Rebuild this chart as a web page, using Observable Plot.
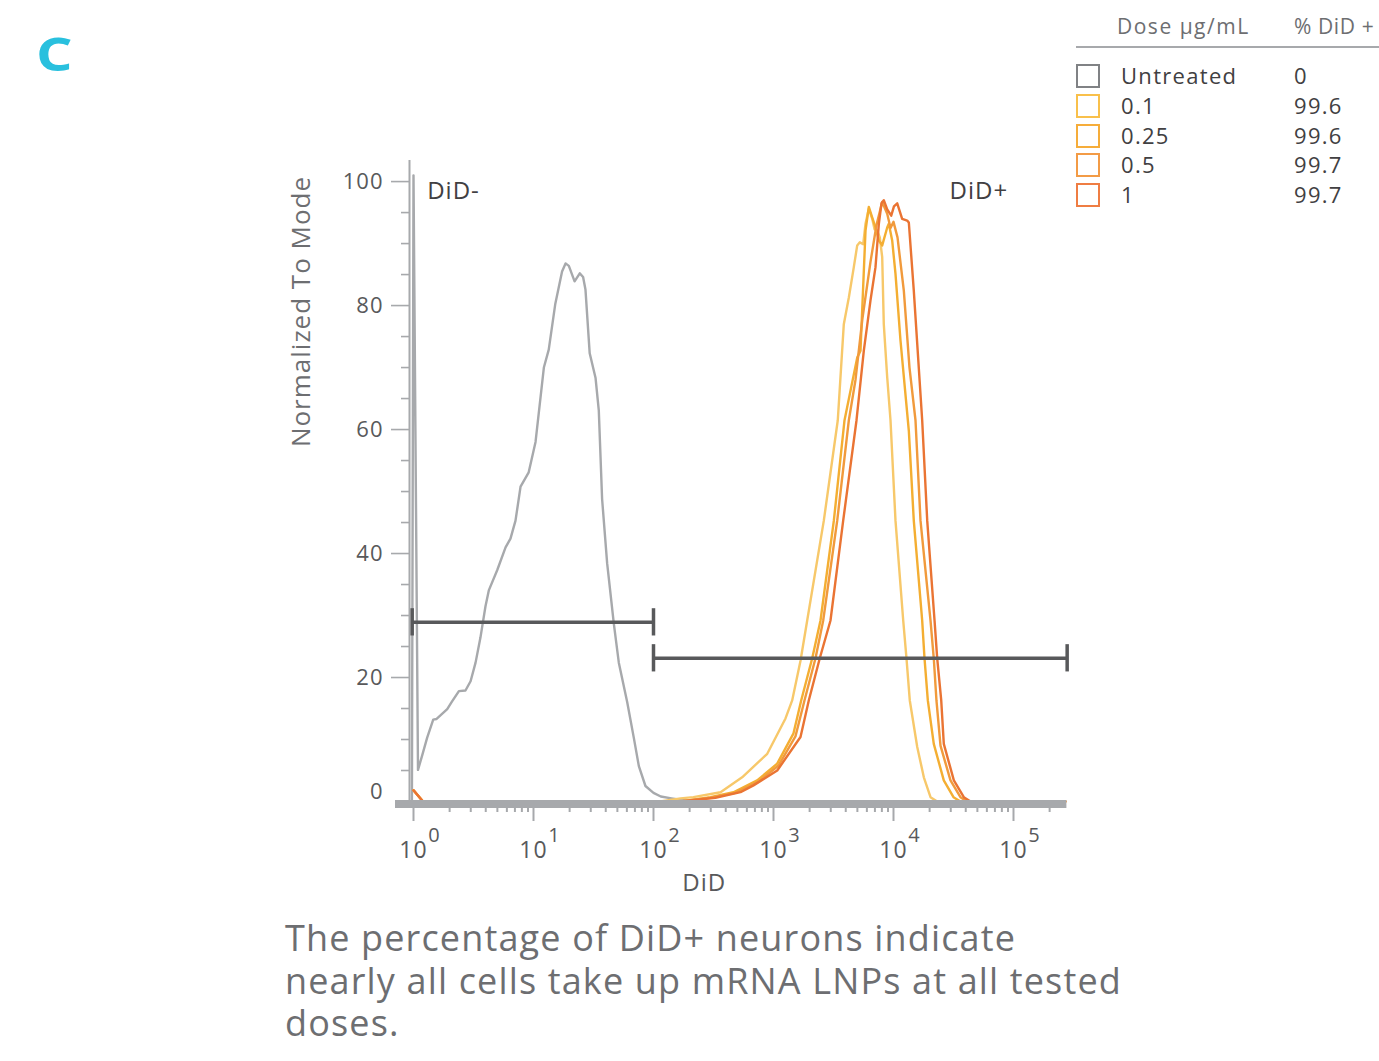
<!DOCTYPE html>
<html><head><meta charset="utf-8">
<script src="https://cdn.jsdelivr.net/npm/d3@7"></script>
<script src="https://cdn.jsdelivr.net/npm/@observablehq/plot@0.6"></script>
<style>
body{margin:0;background:#fff;font-family:"Open Sans",sans-serif;}
#page{position:relative;width:1379px;height:1061px;overflow:hidden;}
#panel{position:absolute;left:36px;top:30px;font-size:46px;font-weight:700;color:#29c0de;line-height:46px;transform:scaleX(1.25);transform-origin:left top;}
#chart{position:absolute;left:0;top:0;}
#legend{position:absolute;left:0;top:0;width:1379px;height:220px;}
#legend div{position:absolute;white-space:nowrap;}
.lh{font-size:21px;color:#6d6e71;letter-spacing:1.5px;}
.lt{font-size:22px;color:#414042;letter-spacing:1.3px;}
.box{width:20px;height:20px;border:2.5px solid #888;}
#caption{position:absolute;left:285px;top:917px;font-size:36px;line-height:42.5px;color:#6d6e71;letter-spacing:1.15px;}
</style></head>
<body>
<div id="page">
  <div id="panel">C</div>
  <div id="chart"></div>
  <div id="legend"></div>
  <div id="caption">The percentage of DiD+ neurons indicate<br>nearly all cells take up mRNA LNPs at all tested<br>doses.</div>
</div>
<script>
// ---- data ----
const doseLabels = ["Untreated", "0.1", "0.25", "0.5", "1"];
const pctDiDPositive = ["0", "99.6", "99.6", "99.7", "99.7"];
const seriesColors = ["#a7a9ac", "#f7c86a", "#f4ae32", "#f19a3c", "#ea7433"];
const legendBoxColors = ["#808285", "#f9c04b", "#f6ad3a", "#f39b46", "#ef7d43"];

// [DiD intensity, % of mode]
const untreated = [[0.97,0],[1.0,101],[1.09,5.1],[1.18,7.4],[1.30,10.3],[1.46,13.2],[1.55,13.3],[1.91,14.9],[2.09,16.1],[2.39,17.8],[2.71,17.9],[2.99,19.4],[3.29,22.4],[3.61,26.4],[3.98,31.5],[4.25,34.1],[4.98,37.3],[5.85,41.0],[6.43,42.4],[7.08,45.3],[7.80,50.8],[9.12,53.1],[10.4,58.0],[12.2,70.0],[13.4,72.9],[15.2,80.3],[17.3,85.5],[18.5,86.8],[19.7,86.4],[22.0,83.9],[24.3,85.2],[25.9,84.6],[27.1,82.6],[29.4,72.3],[32.9,68.3],[35.0,63.1],[37.3,48.8],[41.1,38.4],[46.7,28.7],[51.4,22.4],[60.4,16.0],[68.5,10.3],[75.5,5.7],[85.7,2.5],[100,1.4],[115,0.8],[141,0.5],[178,0.2],[200,0]];
const dose01 = [[1,1.8],[1.2,0],[114,0],[168,0.5],[215,0.7],[362,1.5],[548,3.9],[887,7.7],[1259,13.4],[1431,16.3],[1679,22.7],[1909,29.2],[2626,45.3],[3433,61.5],[3854,77],[4244,81.3],[4670,86.2],[4984,89.7],[5240,90.2],[5593,89.9],[5845,93.2],[6227,95.6],[6650,94],[6950,92.3],[7318,92.1],[7688,91],[8052,87.8],[8300,77],[8865,68.4],[9441,61.5],[10390,45.3],[12050,29.2],[12830,23.1],[13670,16.3],[15770,8.8],[17900,3.9],[20340,0.7],[23130,0],[270000,0]];
const dose025 = [[1,1.8],[1.2,0],[168,0],[299,0.7],[464,1.5],[731,3.4],[1074,6.1],[1468,11],[1701,16.3],[2102,23.1],[2464,29.2],[3183,45.3],[3907,61.5],[4984,71.6],[5309,72.7],[5845,92.1],[6227,95.9],[6650,94.2],[7079,92.6],[7549,90.5],[8052,89.7],[8865,92.6],[9141,93.2],[9750,90.5],[10390,85.1],[11430,74.4],[13420,59.8],[14760,45.3],[17340,29.2],[18130,23.1],[19320,16.3],[21660,9.3],[26250,3.4],[31620,0.7],[36140,0],[270000,0]];
const dose05 = [[1,1.8],[1.2,0],[168,0],[299,0.6],[482,1.4],[750,3.2],[1101,5.8],[1524,10.5],[1812,16.3],[2239,23.1],[2595,29.2],[3396,45.3],[4244,61.5],[4822,68],[5517,78],[6427,87],[7215,93],[8052,96.7],[8865,94.8],[9441,92.5],[10000,93.5],[10800,91],[12190,82.4],[13590,70],[15250,61.5],[16790,45.3],[20340,29.2],[21660,23.1],[22800,16.3],[24640,9],[29850,3.4],[36140,0.7],[41110,0],[270000,0]];
const dose1 = [[1,1.8],[1.2,0],[168,0],[328,0.6],[531,1.5],[681,2.6],[1074,5],[1679,10.4],[1968,16.3],[2430,23.1],[2985,29.2],[3808,45.3],[4918,61.5],[5656,72.7],[6427,80.8],[7079,86.2],[7549,93.2],[7943,96.5],[8300,97],[8865,95.5],[9572,94.5],[10090,96],[10740,96.5],[11810,94],[13010,93.7],[13420,93.4],[14760,82.4],[17340,61.5],[19100,45.3],[21980,29.2],[23130,23.1],[24990,16.3],[26250,9.3],[31840,3.4],[38550,0.7],[43850,0],[270000,0]];
const histograms = [untreated, dose01, dose025, dose05, dose1];

// gates
const gates = [
  {name: "DiD-", x1: 0.975, x2: 100, y: 28.9},
  {name: "DiD+", x1: 100, x2: 280000, y: 23.1}
];

// axes
const xMajor = [1, 10, 100, 1000, 10000, 100000];
const xMinor = [];
for (const p of [1, 10, 100, 1000, 10000, 100000]) for (let m = 2; m <= 9; m++) if (m * p <= 270000) xMinor.push(m * p);
const yMajor = [20, 40, 60, 80, 100];
const yMinor = d3.range(5, 100, 5).filter(v => v % 20 !== 0);
const yLabel = "Normalized To Mode";
const xLabel = "DiD";

// ---- chart ----
const W = 1379, H = 900;
const xmin = Math.pow(10, -0.15), xmax = Math.pow(10, 5.445);
const axisGray = "#a7a9ac", textGray = "#58595b", gateGray = "#58595b";
const gateEnds = gates.flatMap(g => [{x: g.x1, y: g.y}, {x: g.x2, y: g.y}]);

const marks = [
  Plot.ruleX([xmin], {y1: -0.3, y2: 103.4, dx: 14, stroke: axisGray, strokeWidth: 2}),
  Plot.axisY({ticks: yMajor, tickSize: 18, tickPadding: 8, dx: 14, stroke: axisGray, fill: textGray, strokeWidth: 1.6, fontSize: 22, label: null}),
  Plot.axisY({ticks: yMinor, tickSize: 8, dx: 14, stroke: axisGray, strokeWidth: 1.6, tickFormat: () => "", label: null}),
  Plot.axisY({ticks: [0], tickSize: 0, tickPadding: 26, dx: 14, dy: -10, fill: textGray, fontSize: 22, label: null}),
  Plot.text([yLabel], {frameAnchor: "top-left", dx: -94, dy: 151, rotate: -90, textAnchor: "middle", lineAnchor: "middle", fontSize: 26, fill: "#6d6e71"}),
  Plot.axisX({ticks: xMajor, tickSize: 20, stroke: axisGray, strokeWidth: 2, tickFormat: () => "", label: null}),
  Plot.axisX({ticks: xMinor, tickSize: 11, stroke: axisGray, strokeWidth: 2, tickFormat: () => "", label: null}),
  Plot.text(xMajor, {x: d => d, text: () => "10", frameAnchor: "bottom", dy: 56, fontSize: 23, fill: textGray}),
  Plot.text(xMajor, {x: d => d, text: d => String(Math.round(Math.log10(d))), frameAnchor: "bottom", dx: 21, dy: 40, fontSize: 20, fill: textGray}),
  Plot.text([xLabel], {frameAnchor: "bottom", dx: -27, dy: 89, fontSize: 24, fill: textGray}),
  ...histograms.map((h, i) => Plot.line(h, {x: d => d[0], y: d => d[1], stroke: seriesColors[i], strokeWidth: 2.4, strokeLinejoin: "round"})),
  Plot.ruleY([0], {dy: 2.4, stroke: axisGray, strokeWidth: 8}),
  Plot.ruleY(gates, {y: "y", x1: "x1", x2: "x2", stroke: gateGray, strokeWidth: 3.5}),
  Plot.ruleX(gateEnds, {x: "x", y1: d => d.y - 2.2, y2: d => d.y + 2.2, stroke: gateGray, strokeWidth: 3.5}),
  Plot.text([gates[0]], {x: "x1", text: "name", frameAnchor: "top", lineAnchor: "middle", dy: 31, dx: 15, textAnchor: "start", fontSize: 24, fill: "#414042"}),
  Plot.text([gates[1]], {x: "x2", text: "name", frameAnchor: "top", lineAnchor: "middle", dy: 31, dx: -59, textAnchor: "end", fontSize: 24, fill: "#414042"})
];

const chart = Plot.plot({
  width: W, height: H,
  marginLeft: 395, marginRight: W - 1066.4, marginTop: 160, marginBottom: H - 801,
  x: {type: "log", domain: [xmin, xmax]},
  y: {domain: [0, 103.4]},
  style: {fontFamily: "Open Sans", background: "transparent", overflow: "visible", letterSpacing: "1px"},
  marks
});
document.getElementById("chart").appendChild(chart);

// ---- legend ----
const lg = document.getElementById("legend");
function add(cls, text, left, top, extra) {
  const d = document.createElement("div");
  d.className = cls; if (text != null) d.textContent = text;
  d.style.left = left + "px"; d.style.top = top + "px";
  if (extra) Object.assign(d.style, extra);
  lg.appendChild(d); return d;
}
add("lh", "Dose μg/mL", 1117, 12);
add("lh", "% DiD +", 1294, 12, {letterSpacing: "0.6px"});
add("", null, 1076, 46, {width: "303px", height: "0", borderTop: "2px solid #a7a9ac"});
doseLabels.forEach((lab, i) => {
  const cy = 76 + i * 29.8;
  add("box", null, 1076, cy - 12, {borderColor: legendBoxColors[i]});
  add("lt", lab, 1121, cy - 16);
  add("lt", pctDiDPositive[i], 1294, cy - 16);
});
</script>
</body></html>
